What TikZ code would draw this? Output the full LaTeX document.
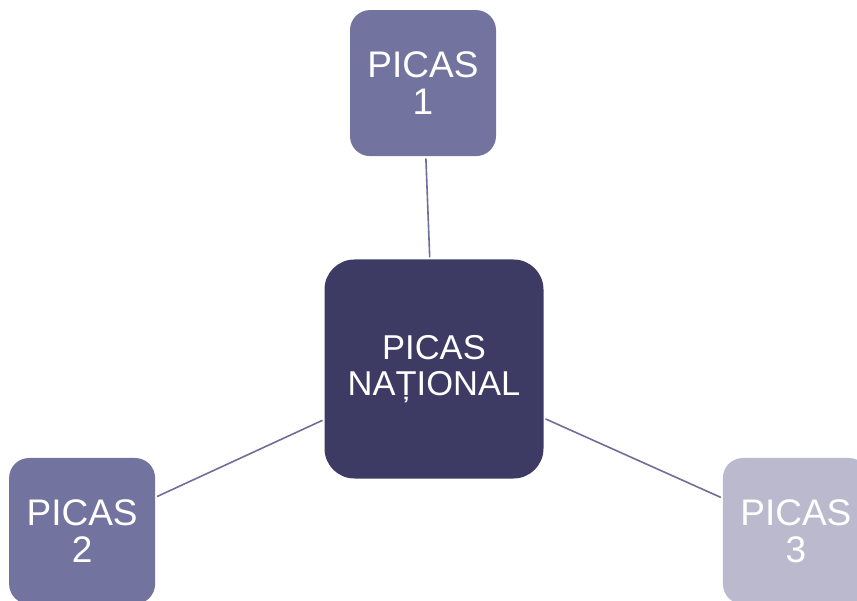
\documentclass[tikz,border=0pt]{standalone}
\usepackage{fontspec}
\setmainfont{Liberation Sans}
\usetikzlibrary{positioning}
\definecolor{picasdark}{HTML}{3D3B63}
\definecolor{picasmid}{HTML}{7373A0}
\definecolor{picaslight}{HTML}{BAB9CD}
\definecolor{picasline}{HTML}{6F6E99}

\begin{document}
\begin{tikzpicture}[x=1pt, y=-1pt,
    box/.style={rounded corners=20pt, minimum size=146pt, inner sep=0pt,
        align=center, text=white, font=\fontsize{37}{37}\selectfont},
    link/.style={picasline, line width=1.6pt, shorten <=2pt, shorten >=2pt}]
                \useasboundingbox (0,0) rectangle (857,601);
                \clip (0,0) rectangle (857,601);
                \node[box, fill=picasdark, minimum size=219pt, rounded corners=30pt,
                    font=\fontsize{34.5}{36}\selectfont] (national) at (434,369) {PICAS\\NAȚIONAL};
                \node[box, fill=picasmid, above=103pt of national, xshift=-11pt] (picas1) {PICAS\\1};
                \node[box, fill=picasmid, left=169pt of national, yshift=-162pt] (picas2) {PICAS\\2};
                \node[box, fill=picaslight, right=179pt of national, yshift=-162pt] (picas3) {PICAS\\3};

                \path
                    (national) edge[link] (picas1)
                    (national) edge[link] (picas2)
                    (national) edge[link] (picas3)
                    ;
            \end{tikzpicture}
\end{document}
